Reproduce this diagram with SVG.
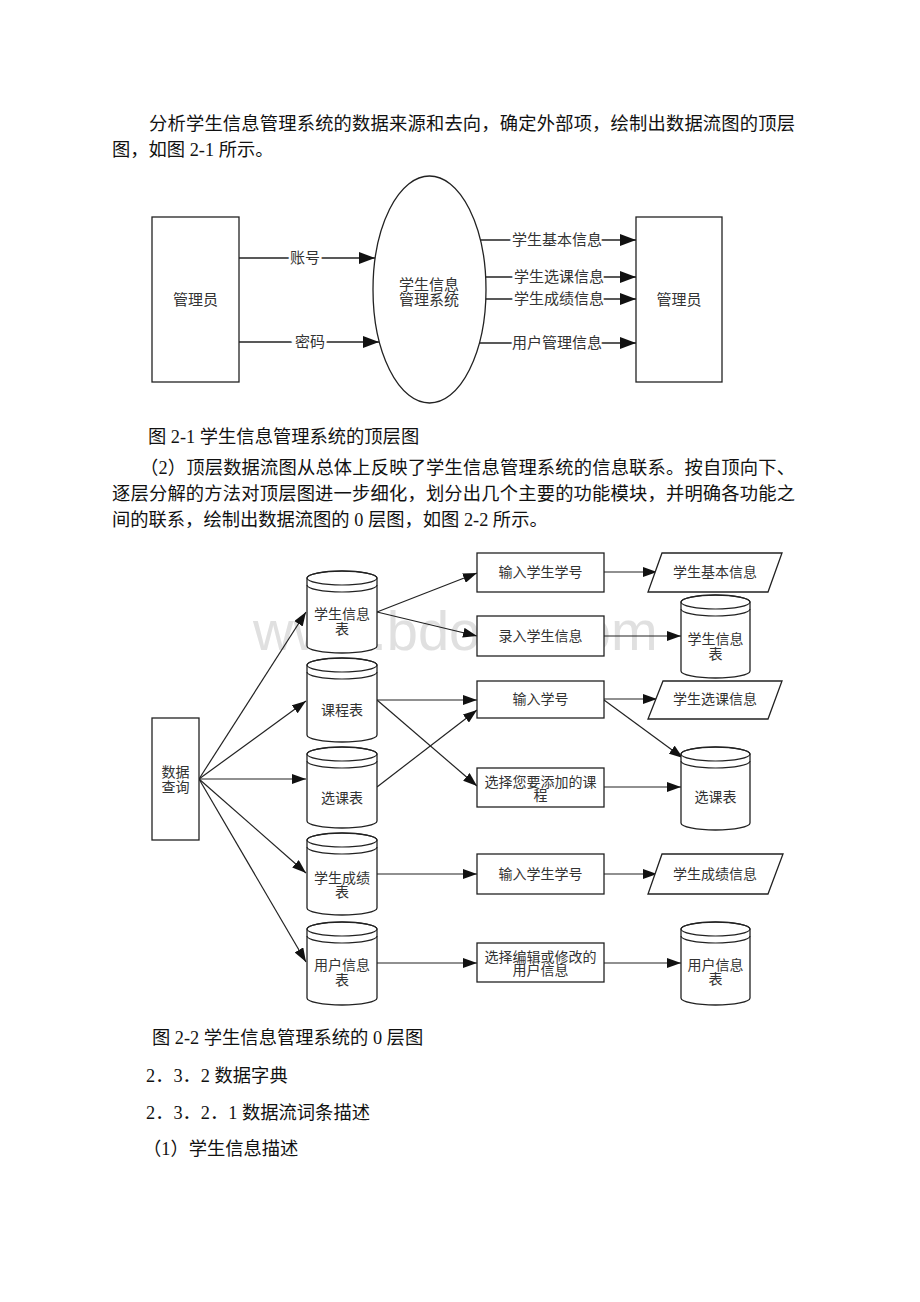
<svg xmlns="http://www.w3.org/2000/svg" width="920" height="1302" viewBox="0 0 920 1302">
<style>
.body{font-family:"Liberation Serif","Noto Sans CJK SC",serif;font-size:18.3px;fill:#111}
.lbl{font-family:"Liberation Sans","Noto Sans CJK SC",sans-serif;font-size:15px;fill:#333;text-anchor:middle}
.lbl2{font-family:"Liberation Sans","Noto Sans CJK SC",sans-serif;font-size:14px;fill:#333;text-anchor:middle}
.edge{font-family:"Liberation Sans","Noto Sans CJK SC",sans-serif;font-size:15px;fill:#333;text-anchor:middle;stroke:#fff;stroke-width:5px;paint-order:stroke}
.shape{fill:#fff;stroke:#222;stroke-width:1.3}
.ln{fill:none;stroke:#222;stroke-width:1.4}
.ln2{fill:none;stroke:#222;stroke-width:1.2}
.wm{font-family:"Liberation Sans",sans-serif;font-size:56px;fill:#e0e0e0}
</style>
<defs>
<marker id="ah" markerUnits="userSpaceOnUse" markerWidth="16" markerHeight="12" refX="16" refY="6" orient="auto">
<path d="M0,0 L16,6 L0,12 Z" fill="#111"/>
</marker>
<marker id="ah2" markerUnits="userSpaceOnUse" markerWidth="14" markerHeight="10" refX="14" refY="5" orient="auto">
<path d="M0,0 L14,5 L0,10 Z" fill="#111"/>
</marker>
</defs>
<rect width="920" height="1302" fill="#fff"/>

<g id="page-text">
<text class="body" x="149" y="130" textLength="646" lengthAdjust="spacing">分析学生信息管理系统的数据来源和去向，确定外部项，绘制出数据流图的顶层</text>
<text class="body" x="112" y="156">图，如图 2-1 所示。</text>
<text class="body" x="148" y="443">图 2-1 学生信息管理系统的顶层图</text>
<text class="body" x="140" y="474" textLength="655" lengthAdjust="spacing">（2）顶层数据流图从总体上反映了学生信息管理系统的信息联系。按自顶向下、</text>
<text class="body" x="112" y="500" textLength="683" lengthAdjust="spacing">逐层分解的方法对顶层图进一步细化，划分出几个主要的功能模块，并明确各功能之</text>
<text class="body" x="112" y="526">间的联系，绘制出数据流图的 0 层图，如图 2-2 所示。</text>
<text class="body" x="152" y="1044">图 2-2 学生信息管理系统的 0 层图</text>
<text class="body" x="146" y="1082">2．3．2 数据字典</text>
<text class="body" x="146" y="1119">2．3．2．1 数据流词条描述</text>
<text class="body" x="143" y="1155">（1）学生信息描述</text>
</g>

<!-- Figure 2-1 -->
<g id="t-connectors">
<line class="ln" x1="239" y1="258" x2="375" y2="258" marker-end="url(#ah)"/>
<line class="ln" x1="239" y1="342" x2="379" y2="342" marker-end="url(#ah)"/>
<line class="ln" x1="480" y1="240" x2="636" y2="240" marker-end="url(#ah)"/>
<line class="ln" x1="485" y1="277" x2="636" y2="277" marker-end="url(#ah)"/>
<line class="ln" x1="485" y1="299" x2="636" y2="299" marker-end="url(#ah)"/>
<line class="ln" x1="479" y1="343" x2="636" y2="343" marker-end="url(#ah)"/>
<text class="edge" x="305" y="263">账号</text>
<text class="edge" x="310" y="347">密码</text>
<text class="edge" x="557" y="245">学生基本信息</text>
<text class="edge" x="559" y="282">学生选课信息</text>
<text class="edge" x="559" y="304">学生成绩信息</text>
<text class="edge" x="557" y="348">用户管理信息</text>
</g>
<g id="t-admin-left">
<rect class="shape" x="152" y="217" width="87" height="165"/>
<text class="lbl" x="195.5" y="305">管理员</text>
</g>
<g id="t-system">
<ellipse class="shape" cx="429.5" cy="289.5" rx="56.5" ry="113.5" fill="none"/>
<text class="lbl" x="429" y="290">学生信息</text>
<text class="lbl" x="429" y="305">管理系统</text>
</g>
<g id="t-admin-right">
<rect class="shape" x="636" y="217" width="86" height="165"/>
<text class="lbl" x="679" y="305">管理员</text>
</g>

<!-- watermark -->
<text class="wm" x="253" y="650">www.bdocx.com</text>

<!-- Figure 2-2 -->
<g id="b-connectors">
<line class="ln2" x1="199" y1="779" x2="306" y2="612" marker-end="url(#ah2)"/>
<line class="ln2" x1="199" y1="779" x2="306" y2="701" marker-end="url(#ah2)"/>
<line class="ln2" x1="199" y1="779" x2="306" y2="779" marker-end="url(#ah2)"/>
<line class="ln2" x1="199" y1="779" x2="306" y2="873" marker-end="url(#ah2)"/>
<line class="ln2" x1="199" y1="779" x2="306" y2="962" marker-end="url(#ah2)"/>
<line class="ln2" x1="377" y1="612" x2="477" y2="573" marker-end="url(#ah2)"/>
<line class="ln2" x1="377" y1="612" x2="477" y2="636" marker-end="url(#ah2)"/>
<line class="ln2" x1="377" y1="700" x2="477" y2="700" marker-end="url(#ah2)"/>
<line class="ln2" x1="377" y1="700" x2="477" y2="786" marker-end="url(#ah2)"/>
<line class="ln2" x1="377" y1="787" x2="477" y2="710" marker-end="url(#ah2)"/>
<line class="ln2" x1="377" y1="874" x2="477" y2="874" marker-end="url(#ah2)"/>
<line class="ln2" x1="377" y1="963" x2="477" y2="963" marker-end="url(#ah2)"/>
<line class="ln2" x1="604" y1="572" x2="657" y2="572" marker-end="url(#ah2)"/>
<line class="ln2" x1="604" y1="636" x2="681" y2="636" marker-end="url(#ah2)"/>
<line class="ln2" x1="604" y1="699" x2="657" y2="699" marker-end="url(#ah2)"/>
<line class="ln2" x1="604" y1="700" x2="683" y2="758" marker-end="url(#ah2)"/>
<line class="ln2" x1="604" y1="787" x2="681" y2="787" marker-end="url(#ah2)"/>
<line class="ln2" x1="604" y1="874" x2="657" y2="874" marker-end="url(#ah2)"/>
<line class="ln2" x1="604" y1="963" x2="681" y2="963" marker-end="url(#ah2)"/>
</g>

<g id="b-query">
<rect class="shape" x="152" y="718" width="47" height="122"/>
<text class="lbl2" x="175.5" y="777">数据</text>
<text class="lbl2" x="175.5" y="792">查询</text>
</g>

<g id="db-student">
<path class="shape" d="M307,578 A35,7 0 0 1 377,578 L377,646 A35,7 0 0 1 307,646 Z"/>
<ellipse class="ln2" cx="342" cy="578" rx="35" ry="7"/>
<path class="ln2" d="M307,585 A35,7 0 0 0 377,585"/>
<text class="lbl2" x="342" y="619">学生信息</text>
<text class="lbl2" x="342" y="634">表</text>
</g>
<g id="db-course">
<path class="shape" d="M307,665 A35,7 0 0 1 377,665 L377,735 A35,7 0 0 1 307,735 Z"/>
<ellipse class="ln2" cx="342" cy="665" rx="35" ry="7"/>
<path class="ln2" d="M307,672 A35,7 0 0 0 377,672"/>
<text class="lbl2" x="342" y="715">课程表</text>
</g>
<g id="db-select">
<path class="shape" d="M307,754 A35,7 0 0 1 377,754 L377,821 A35,7 0 0 1 307,821 Z"/>
<ellipse class="ln2" cx="342" cy="754" rx="35" ry="7"/>
<path class="ln2" d="M307,761 A35,7 0 0 0 377,761"/>
<text class="lbl2" x="342" y="803">选课表</text>
</g>
<g id="db-score">
<path class="shape" d="M307,840 A35,7 0 0 1 377,840 L377,908 A35,7 0 0 1 307,908 Z"/>
<ellipse class="ln2" cx="342" cy="840" rx="35" ry="7"/>
<path class="ln2" d="M307,847 A35,7 0 0 0 377,847"/>
<text class="lbl2" x="342" y="883">学生成绩</text>
<text class="lbl2" x="342" y="897">表</text>
</g>
<g id="db-user">
<path class="shape" d="M307,929 A35,7 0 0 1 377,929 L377,998 A35,7 0 0 1 307,998 Z"/>
<ellipse class="ln2" cx="342" cy="929" rx="35" ry="7"/>
<path class="ln2" d="M307,936 A35,7 0 0 0 377,936"/>
<text class="lbl2" x="342" y="970">用户信息</text>
<text class="lbl2" x="342" y="985">表</text>
</g>

<g id="p-input-sno-1">
<rect class="shape" x="477" y="553" width="127" height="39"/>
<text class="lbl2" x="540.5" y="577">输入学生学号</text>
</g>
<g id="p-enter-info">
<rect class="shape" x="477" y="616" width="127" height="40"/>
<text class="lbl2" x="540.5" y="641">录入学生信息</text>
</g>
<g id="p-input-no">
<rect class="shape" x="477" y="681" width="127" height="37"/>
<text class="lbl2" x="540.5" y="704">输入学号</text>
</g>
<g id="p-choose-course">
<rect class="shape" x="477" y="768" width="127" height="39"/>
<text class="lbl2" x="540.5" y="787">选择您要添加的课</text>
<text class="lbl2" x="540.5" y="800">程</text>
</g>
<g id="p-input-sno-2">
<rect class="shape" x="477" y="854" width="127" height="40"/>
<text class="lbl2" x="540.5" y="879">输入学生学号</text>
</g>
<g id="p-edit-user">
<rect class="shape" x="477" y="943" width="127" height="39"/>
<text class="lbl2" x="540.5" y="962">选择编辑或修改的</text>
<text class="lbl2" x="540.5" y="975">用户信息</text>
</g>

<g id="o-basic-info">
<polygon class="shape" points="662,553 782,553 768,592 648,592"/>
<text class="lbl2" x="715" y="577">学生基本信息</text>
</g>
<g id="db-student-r">
<path class="shape" d="M681,602 A34.5,7 0 0 1 750,602 L750,671 A34.5,7 0 0 1 681,671 Z"/>
<ellipse class="ln2" cx="715.5" cy="602" rx="34.5" ry="7"/>
<path class="ln2" d="M681,609 A34.5,7 0 0 0 750,609"/>
<text class="lbl2" x="715.5" y="644">学生信息</text>
<text class="lbl2" x="715.5" y="659">表</text>
</g>
<g id="o-select-info">
<polygon class="shape" points="663,681 782,681 768,719 648,719"/>
<text class="lbl2" x="715" y="704">学生选课信息</text>
</g>
<g id="db-select-r">
<path class="shape" d="M681,754 A34.5,7 0 0 1 750,754 L750,823 A34.5,7 0 0 1 681,823 Z"/>
<ellipse class="ln2" cx="715.5" cy="754" rx="34.5" ry="7"/>
<path class="ln2" d="M681,761 A34.5,7 0 0 0 750,761"/>
<text class="lbl2" x="715.5" y="802">选课表</text>
</g>
<g id="o-score-info">
<polygon class="shape" points="662,854 783,854 768,894 648,894"/>
<text class="lbl2" x="715" y="879">学生成绩信息</text>
</g>
<g id="db-user-r">
<path class="shape" d="M681,929 A34.5,7 0 0 1 750,929 L750,998 A34.5,7 0 0 1 681,998 Z"/>
<ellipse class="ln2" cx="715.5" cy="929" rx="34.5" ry="7"/>
<path class="ln2" d="M681,936 A34.5,7 0 0 0 750,936"/>
<text class="lbl2" x="715.5" y="970">用户信息</text>
<text class="lbl2" x="715.5" y="984">表</text>
</g>
</svg>
